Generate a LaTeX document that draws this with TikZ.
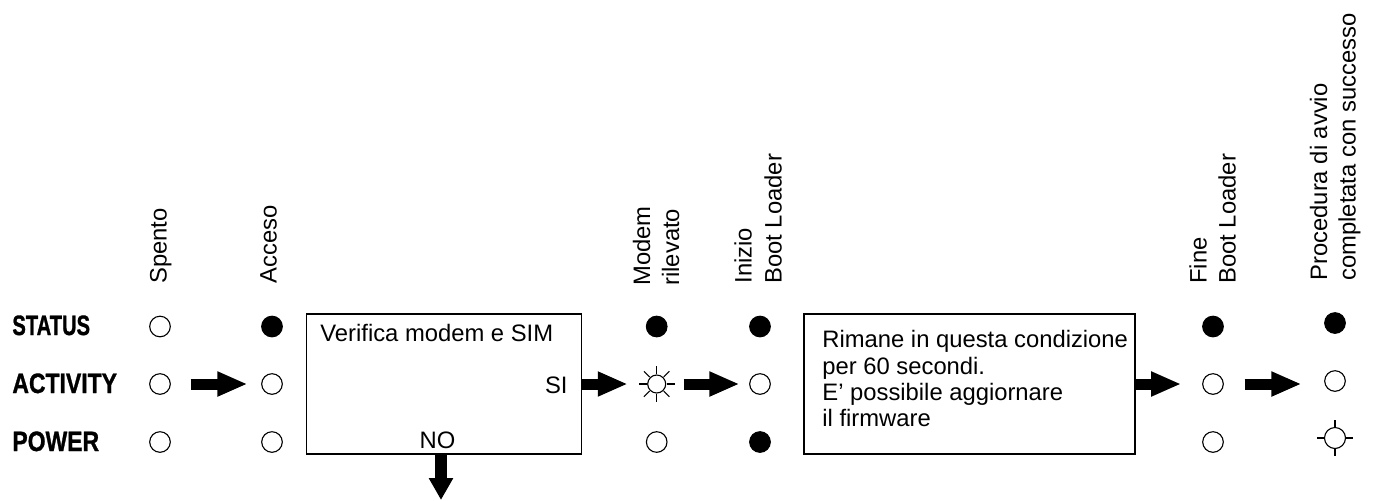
\documentclass[tikz,border=0pt]{standalone}
\usepackage{fontspec}
\setmainfont{Liberation Sans}
\newfontfamily\heavyfont[FakeBold=1.2]{Liberation Sans Bold}
\usepackage{graphicx}
\usetikzlibrary{arrows.meta}
\begin{document}
\begin{tikzpicture}[x=0.5pt,y=-0.5pt,
  every node/.style={font=\fontsize{11.9}{14}\selectfont, inner sep=0pt},
  ledoff/.style={circle,draw,line width=0.55pt,minimum size=10.3pt,inner sep=0pt},
  ledon/.style={ledoff,fill=black},
  fat/.style={line width=5.5pt,-{Triangle[length=15pt,width=11.5pt]}},
  box/.style={draw,line width=0.6pt,rectangle,inner sep=0pt},
  vlab/.style={rotate=90,anchor=base west},
  rowlab/.style={anchor=base west,font=\fontsize{14}{16}\selectfont\heavyfont},
  ray/.style={line width=0.55pt}]
\useasboundingbox (0,0) rectangle (1373,500);

% row labels
\node[rowlab] (lS) at (12,335) {\scalebox{0.72}[1]{STATUS}};
\node[rowlab] (lA) at (12,393) {\scalebox{0.82}[1]{ACTIVITY}};
\node[rowlab] (lP) at (12,451) {\scalebox{0.82}[1]{POWER}};

% column labels
\node[vlab] (hSp) at (166.7,284) {Spento};
\node[vlab] (hAc) at (276.7,284) {Acceso};
\node[vlab] (hMo1) at (650,286) {Modem};
\node[vlab] (hMo2) at (679,286) {rilevato};
\node[vlab] (hIb1) at (751.7,284) {Inizio};
\node[vlab] (hIb2) at (781.7,284) {Boot Loader};
\node[vlab] (hFb1) at (1206.5,284) {Fine};
\node[vlab] (hFb2) at (1235.5,284) {Boot Loader};
\node[vlab] (hFn1) at (1327,281) {Procedura di avvio};
\node[vlab] (hFn2) at (1355.5,281) {completata con successo};

% Spento
\node[ledoff] (spS) at (160,326.5) {};
\node[ledoff] (spA) at (160,384) {};
\node[ledoff] (spP) at (160,442) {};
% Acceso
\node[ledon]  (acS) at (272,326.5) {};
\node[ledoff] (acA) at (272,384) {};
\node[ledoff] (acP) at (272,442) {};
% Modem rilevato
\node[ledon]  (moS) at (656.7,326.5) {};
\node[circle,draw,line width=0.55pt,minimum size=9pt,inner sep=0pt] (moA) at (656.7,384) {};
\foreach \a in {0,45,...,315}
  \draw[ray] (moA.center) ++(\a:10) -- ++(\a:8);
\node[ledoff] (moP) at (656.7,442) {};
% Inizio Boot Loader
\node[ledon]  (ibS) at (760,326.5) {};
\node[ledoff] (ibA) at (760,384) {};
\node[ledon]  (ibP) at (760,442) {};
% Fine Boot Loader
\node[ledon]  (fbS) at (1213,326.5) {};
\node[ledoff] (fbA) at (1213,384) {};
\node[ledoff] (fbP) at (1213,442) {};
% Procedura completata
\node[ledon]  (fnS) at (1335,323) {};
\node[ledoff] (fnA) at (1335,381) {};
\node[ledoff,minimum size=10.5pt] (fnP) at (1335,438) {};
\foreach \a in {0,90,180,270}
  \draw[ray] (fnP.center) ++(\a:10.5) -- ++(\a:7.5);

% box 1
\node[box,minimum width=137.5pt,minimum height=70pt] (b1) at (444.2,384) {};
\node[anchor=base west] (t1) at (320,341) {Verifica modem e SIM};
\node[anchor=base east] (si) at (568,393) {SI};
\node[anchor=base] (no) at (437.5,448) {NO};
% box 2
\node[box,minimum width=165.5pt,minimum height=70pt] (b2) at (969.5,384) {};
\node[anchor=north west,align=left,font=\fontsize{11.9}{13.2}\selectfont] (t2) at (822,330)
  {Rimane in questa condizione\\per 60 secondi.\\E’ possibile aggiornare\\il firmware};

% arrows
\draw[fat,shorten <=9.85pt,shorten >=6.85pt] (spA) -- (acA);
\draw[fat,shorten >=9.7pt] (b1.east) -- (moA);
\draw[fat,shorten <=8.65pt,shorten >=4.85pt] (moA) -- (ibA);
\draw[fat,shorten >=10.5pt] (b2.east) -- (fbA);
\draw[fat,shorten <=10.35pt,shorten >=11.35pt] (fbA) -- (fbA -| fnA.west);
\coordinate (noend) at (441,500);
\draw[line width=6pt,-{Triangle[length=11pt,width=11.5pt]}] (b1.south -| noend) -- (noend);
\end{tikzpicture}
\end{document}
